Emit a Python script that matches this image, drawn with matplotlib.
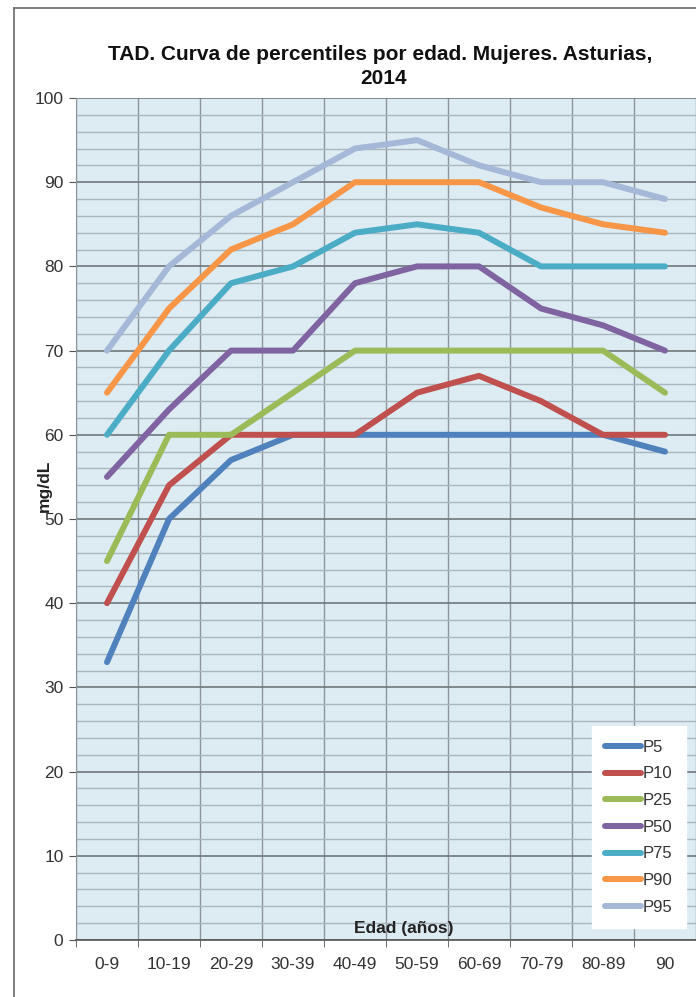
import matplotlib
matplotlib.use('Agg')
import matplotlib.pyplot as plt
from matplotlib.lines import Line2D

plt.rcParams['font.family'] = ['Liberation Sans', 'DejaVu Sans']

edades = ['0-9', '10-19', '20-29', '30-39', '40-49', '50-59', '60-69', '70-79', '80-89', '90']
p5 = [33, 50, 57, 60, 60, 60, 60, 60, 60, 58]
p10 = [40, 54, 60, 60, 60, 65, 67, 64, 60, 60]
p25 = [45, 60, 60, 65, 70, 70, 70, 70, 70, 65]
p50 = [55, 63, 70, 70, 78, 80, 80, 75, 73, 70]
p75 = [60, 70, 78, 80, 84, 85, 84, 80, 80, 80]
p90 = [65, 75, 82, 85, 90, 90, 90, 87, 85, 84]
p95 = [70, 80, 86, 90, 94, 95, 92, 90, 90, 88]

series = [('P5', p5, '#4F81BD'), ('P10', p10, '#C0504D'), ('P25', p25, '#9BBB59'),
          ('P50', p50, '#8064A2'), ('P75', p75, '#4BACC6'), ('P90', p90, '#F79646'),
          ('P95', p95, '#A5B8D8')]

fig = plt.figure(figsize=(6.96, 9.97), dpi=100)
ax = fig.add_axes([76 / 696, 57 / 997, 620 / 696, 842 / 997])
ax.set_facecolor('#DDEBF2')

x = list(range(len(edades)))
for nombre, valores, color in series:
    ax.plot(x, valores, color=color, lw=4.3, label=nombre, solid_capstyle='round',
            solid_joinstyle='round', zorder=3)

ax.set_xlim(-0.5, len(edades) - 0.5)
ax.set_ylim(0, 100)
ax.set_yticks(range(0, 101, 10))
ax.set_yticks(range(0, 101, 2), minor=True)
ax.set_xticks(x)
ax.set_xticklabels(edades)
ax.set_xticks([i - 0.5 for i in range(len(edades) + 1)], minor=True)

ax.grid(axis='y', which='minor', color='#A9B6BE', lw=1.0, zorder=1)
ax.grid(axis='y', which='major', color='#6F777C', lw=1.2, zorder=1)
ax.grid(axis='x', which='minor', color='#8C969C', lw=1.0, zorder=1)
ax.set_axisbelow(True)

ax.tick_params(axis='x', which='major', length=0, pad=12, labelsize=12.5, labelcolor='#333333')
ax.tick_params(axis='x', which='minor', length=5, color='#555555', direction='out')
ax.tick_params(axis='y', which='major', length=5, color='#555555', pad=4, labelsize=12.5,
               labelcolor='#333333')
ax.tick_params(axis='y', which='minor', length=0)

for lado in ['top', 'right']:
    ax.spines[lado].set_visible(False)
ax.spines['left'].set_color('#8C969C')
ax.spines['bottom'].set_color('#555555')
ax.spines['bottom'].set_linewidth(1.2)

ax.text((404 - 76) / 620, 12 / 842, 'Edad (años)', transform=ax.transAxes, ha='center',
        va='center', fontsize=12.5, fontweight='bold', color='#222222')
fig.text(44 / 696, 1 - 486 / 997, 'mg/dL', rotation=90, ha='center', va='center',
         fontsize=12.5, fontweight='bold', color='#222222')

fig.text(380 / 696, 1 - 55 / 997, 'TAD. Curva de percentiles por edad. Mujeres. Asturias,',
         ha='center', va='center', fontsize=15, fontweight='bold', color='#111111')
fig.text(384 / 696, 1 - 79 / 997, '2014', ha='center', va='center', fontsize=15,
         fontweight='bold', color='#111111')

leg = ax.legend(loc='lower right', bbox_to_anchor=(686 / 696, 1 - 928 / 997),
                bbox_transform=fig.transFigure, fontsize=12, handlelength=2.15,
                handletextpad=0.1, labelspacing=0.7, frameon=True, fancybox=False,
                borderpad=0.8, borderaxespad=0)
leg.get_frame().set_facecolor('white')
leg.get_frame().set_edgecolor('white')
leg.get_frame().set_alpha(1)
for t in leg.get_texts():
    t.set_color('#333333')

fig.add_artist(Line2D([14 / 696, 14 / 696], [0, 1 - 8 / 997], transform=fig.transFigure,
                      color='#6A6A6A', lw=1.2))
fig.add_artist(Line2D([14 / 696, 1], [1 - 8 / 997, 1 - 8 / 997], transform=fig.transFigure,
                      color='#6A6A6A', lw=1.2))

fig.savefig('out.png', dpi=100)
